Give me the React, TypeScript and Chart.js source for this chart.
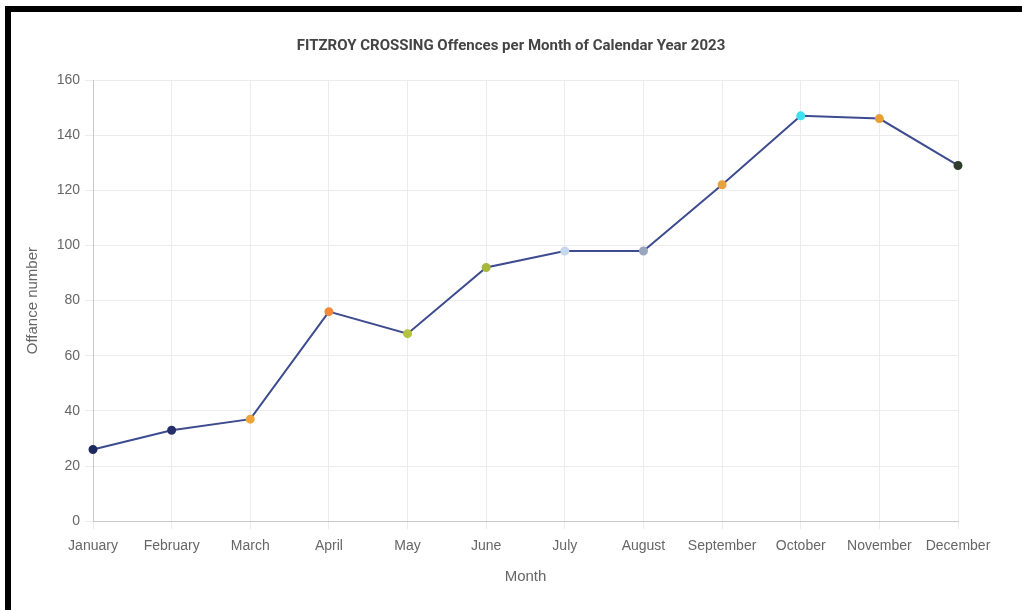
import React, { useEffect, useRef } from "react";
import { Chart, registerables } from "chart.js";

Chart.register(...registerables);

const months = [
  "January", "February", "March", "April", "May", "June",
  "July", "August", "September", "October", "November", "December",
];
const offences = [26, 33, 37, 76, 68, 92, 98, 98, 122, 147, 146, 129];
const pointColors = [
  "#1e2a5e", "#26316c", "#f0a33a", "#f28a3c", "#b5c43c", "#a8b83a",
  "#c8d8ec", "#9aa6be", "#e6a23c", "#3fe0f0", "#e8a030", "#2f3d2f",
];
const chartTitle = "FITZROY CROSSING Offences per Month of Calendar Year 2023";
const xTitle = "Month";
const yTitle = "Offance number";

export default function App() {
  const ref = useRef<HTMLCanvasElement | null>(null);

  useEffect(() => {
    if (!ref.current) return;
    const chart = new Chart(ref.current, {
      type: "line",
      data: {
        labels: months,
        datasets: [
          {
            label: "Offences",
            data: offences,
            borderColor: "#3d4b8f",
            borderWidth: 2,
            backgroundColor: pointColors,
            pointBackgroundColor: pointColors,
            pointBorderColor: pointColors,
            pointRadius: 3.5,
            tension: 0,
            fill: false,
          },
        ],
      },
      options: {
        responsive: false,
        animation: false,
        layout: { padding: { left: 9, right: 20, top: 1, bottom: 8 } },
        plugins: {
          legend: { display: false },
          tooltip: { enabled: false },
          title: {
            display: true,
            text: chartTitle,
            color: "#444",
            font: { family: "Roboto", size: 15, weight: "bold" },
            padding: { top: 24, bottom: 25 },
          },
        },
        scales: {
          x: {
            grid: { color: "#ececec", tickLength: 8 },
            border: { color: "#c8c8c8" },
            ticks: {
              color: "#666",
              padding: 9,
              maxRotation: 0,
              autoSkip: false,
              font: { family: "Liberation Sans", size: 14 },
            },
            title: {
              display: true,
              text: xTitle,
              color: "#666",
              font: { family: "Liberation Sans", size: 15 },
              padding: { top: 4, bottom: 16 },
            },
            afterFit: (scale: any) => {
              scale.paddingRight = 64;
            },
          },
          y: {
            min: 0,
            max: 160,
            ticks: {
              stepSize: 20,
              color: "#666",
              padding: 5,
              font: { family: "Liberation Sans", size: 14 },
            },
            grid: { color: "#ececec", tickLength: 8 },
            border: { color: "#c8c8c8" },
            title: {
              display: true,
              text: yTitle,
              color: "#666",
              font: { family: "Liberation Sans", size: 15 },
              padding: { top: 4, bottom: 4 },
            },
            afterFit: (scale: any) => {
              scale.width = 73;
            },
          },
        },
      },
    });
    return () => chart.destroy();
  }, []);

  return (
    <div
      style={{
        position: "fixed",
        left: 5,
        top: 6,
        right: 0,
        bottom: 0,
        borderTop: "6px solid #000",
        borderLeft: "6px solid #000",
        background: "#fff",
        boxSizing: "border-box",
      }}
    >
      <canvas ref={ref} width={1011} height={598} style={{ display: "block" }} />
    </div>
  );
}
